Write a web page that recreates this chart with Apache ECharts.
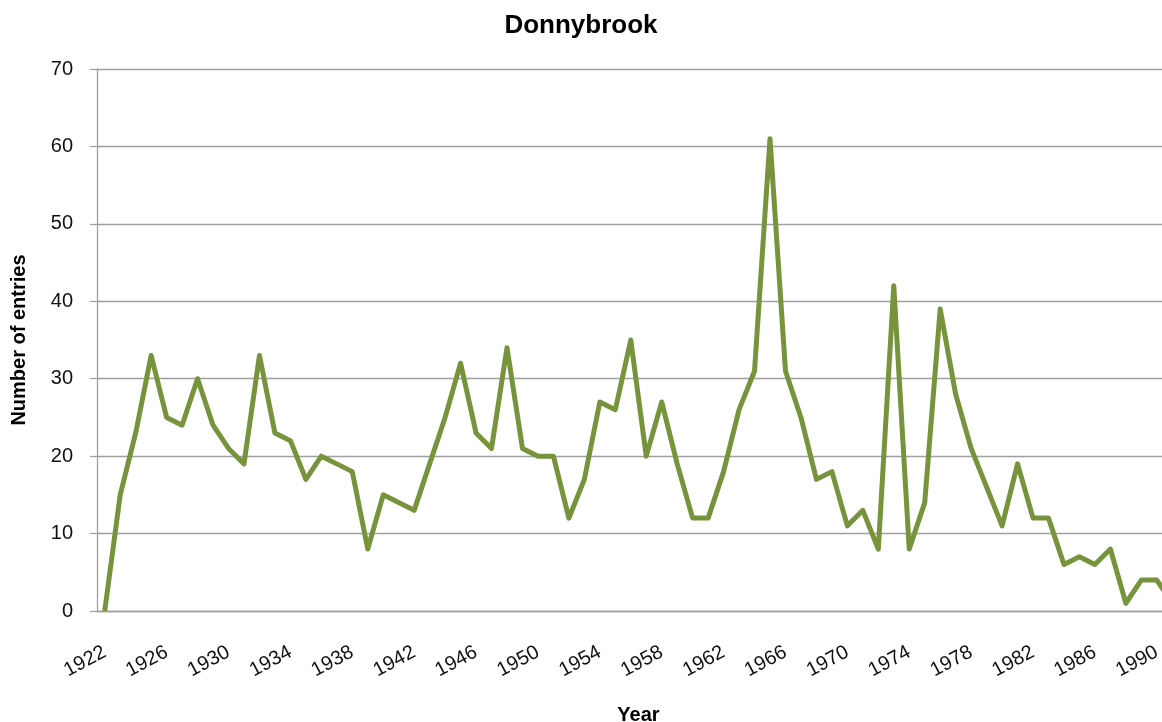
<!DOCTYPE html>
<html>
<head>
<meta charset="utf-8">
<title>Donnybrook</title>
<script src="https://cdn.jsdelivr.net/npm/echarts@6/dist/echarts.min.js"></script>
<style>
    html, body {margin: 0; padding: 0; background: #fff;}
    #main {width: 1162px; height: 722px;}
</style>
</head>
<body>
<div id="main"></div>
<script>
// years on the category axis (chart is cut off after 1990)
var years = [];
for (var y = 1922; y <= 1991; y++) {
    years.push(String(y));
}
// number of entries per year
var entries = [
    0, 15, 23, 33, 25, 24, 30, 24, 21, 19,
    33, 23, 22, 17, 20, 19, 18, 8, 15, 14,
    13, 19, 25, 32, 23, 21, 34, 21, 20, 20,
    12, 17, 27, 26, 35, 20, 27, 19, 12, 12,
    18, 26, 31, 61, 31, 25, 17, 18, 11, 13,
    8, 42, 8, 14, 39, 28, 21, 16, 11, 19,
    12, 12, 6, 7, 6, 8, 1, 4, 4, 1
];
var yTicks = {min: 0, max: 70, interval: 10};

var myChart = echarts.init(document.getElementById('main'));
var font = 'Liberation Sans, Arial, sans-serif';

myChart.setOption({
    animation: false,
    title: {
        text: 'Donnybrook',
        left: 'center',
        top: 8,
        textStyle: {fontFamily: font, fontSize: 26, fontWeight: 'bold', color: '#000'}
    },
    grid: {
        left: 97,
        top: 69,
        width: 1083,
        height: 542,
        outerBoundsMode: 'none'
    },
    xAxis: {
        type: 'category',
        data: years,
        boundaryGap: true,
        name: 'Year',
        nameLocation: 'middle',
        nameGap: 94,
        nameTextStyle: {fontFamily: font, fontSize: 20, fontWeight: 'bold', color: '#000'},
        axisLine: {lineStyle: {color: '#a0a0a0', width: 1.3}},
        axisTick: {interval: 0, length: 6, lineStyle: {color: '#a0a0a0', width: 1.3}},
        axisLabel: {
            interval: 3,
            rotate: 28,
            margin: 40,
            fontFamily: font,
            fontSize: 20,
            color: '#111'
        }
    },
    yAxis: {
        type: 'value',
        min: yTicks.min,
        max: yTicks.max,
        interval: yTicks.interval,
        name: 'Number of entries',
        nameLocation: 'middle',
        nameGap: 68,
        nameTextStyle: {fontFamily: font, fontSize: 20, fontWeight: 'bold', color: '#000'},
        axisLine: {show: true, lineStyle: {color: '#a0a0a0', width: 1.3}},
        axisTick: {show: true, length: 7, lineStyle: {color: '#a0a0a0', width: 1.3}},
        axisLabel: {margin: 24, fontFamily: font, fontSize: 20, color: '#111'},
        splitLine: {lineStyle: {color: '#a0a0a0', width: 1.3}}
    },
    series: [{
        type: 'line',
        data: entries,
        symbol: 'none',
        lineStyle: {color: '#77933c', width: 5, join: 'round'}
    }]
});
</script>
</body>
</html>
